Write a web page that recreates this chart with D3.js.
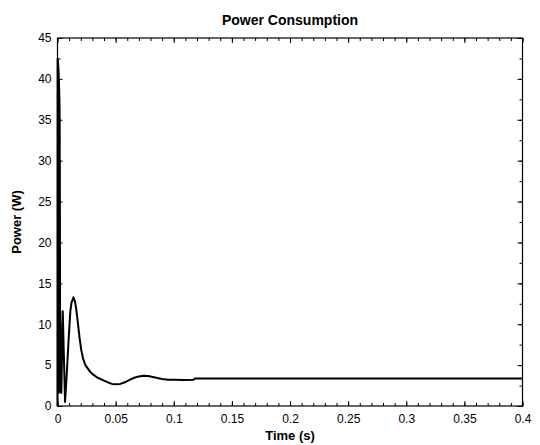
<!DOCTYPE html>
<html><head><meta charset="utf-8">
<script src="https://cdn.jsdelivr.net/npm/d3@7"></script>
<style>body{margin:0;background:#fff}svg{display:block}text{font-family:"Liberation Sans",Arial,sans-serif}</style>
</head><body>
<script>
const times = [0,0.0001,0.00015,0.0002,0.00025,0.0003,0.00035,0.0004,0.00045,0.0005,0.00055,0.0006,0.00065,0.0007,0.00075,0.0008,0.00085,0.0009,0.00095,0.001,0.00105,0.0011,0.00115,0.0012,0.00125,0.0013,0.00135,0.0014,0.00145,0.0015,0.00155,0.0016,0.00165,0.0017,0.00175,0.0018,0.00185,0.0019,0.00195,0.002,0.0022,0.0033,0.0045,0.0065,0.008,0.0095,0.011,0.012,0.0137,0.015,0.016,0.0175,0.019,0.0205,0.022,0.024,0.026,0.028,0.031,0.034,0.037,0.04,0.044,0.047,0.05,0.054,0.058,0.062,0.066,0.07,0.074,0.078,0.082,0.086,0.09,0.095,0.1,0.108,0.117,0.118,0.2,0.3,0.4];
const power = [0,42.5,1.5,42.4,1.8,42.3,2,42.1,1.6,42,1.7,41.8,2,41.5,1.8,41.2,1.6,41,1.9,40.7,1.7,40.4,2,40,1.8,39.6,1.7,39,2,38.5,1.8,38,1.7,37.2,2,36.5,1.8,35,2,30,11.7,1.6,11.6,0.5,4,8,11.5,12.6,13.3,12.8,12,10.2,8.3,6.8,5.8,5,4.6,4.2,3.8,3.5,3.3,3.1,2.85,2.7,2.65,2.7,2.9,3.2,3.45,3.62,3.7,3.68,3.55,3.42,3.3,3.22,3.2,3.18,3.2,3.35,3.35,3.35,3.35];
const xTicks = [0,0.05,0.1,0.15,0.2,0.25,0.3,0.35,0.4];
const yTicks = [0,5,10,15,20,25,30,35,40,45];

const W=540,H=445, L=57.5, R=522.5, T=38, B=406;
const svg=d3.select("body").append("svg").attr("width",W).attr("height",H);
const x=d3.scaleLinear().domain([0,0.4]).range([L,R]);
const y=d3.scaleLinear().domain([0,45]).range([B,T]);

const xMinor=d3.range(0,0.4001,0.01);
const yMinor=d3.range(0,45.01,2.5);

function axis(gen, tr){ return svg.append("g").attr("transform",tr).call(gen); }
axis(d3.axisBottom(x).tickValues(xMinor).tickSize(-3).tickFormat(""), `translate(0,${B})`);
axis(d3.axisBottom(x).tickValues(xTicks).tickSize(-5).tickPadding(8).tickFormat(d=>d===0?"0":String(+d.toFixed(2))), `translate(0,${B})`);
axis(d3.axisTop(x).tickValues(xMinor).tickSize(-3).tickFormat(""), `translate(0,${T})`);
axis(d3.axisTop(x).tickValues(xTicks).tickSize(-5).tickFormat(""), `translate(0,${T})`);
axis(d3.axisLeft(y).tickValues(yMinor).tickSize(-3).tickFormat(""), `translate(${L},0)`);
axis(d3.axisLeft(y).tickValues(yTicks).tickSize(-5).tickPadding(6), `translate(${L},0)`);
axis(d3.axisRight(y).tickValues(yMinor).tickSize(-3).tickFormat(""), `translate(${R},0)`);
axis(d3.axisRight(y).tickValues(yTicks).tickSize(-5).tickFormat(""), `translate(${R},0)`);

svg.selectAll(".domain").remove();
svg.selectAll(".tick line").attr("stroke","#000");
svg.selectAll(".tick text").attr("font-size",12).attr("fill","#000").attr("font-family","Liberation Sans, Arial, sans-serif");

svg.append("rect").attr("x",L).attr("y",T).attr("width",R-L).attr("height",B-T)
  .attr("fill","none").attr("stroke","#000").attr("stroke-width",1.2);

const pts=times.map((t,i)=>[t,power[i]]);
svg.append("path").datum(pts).attr("fill","none").attr("stroke","#000").attr("stroke-width",2)
  .attr("stroke-linejoin","round")
  .attr("d",d3.line().x(d=>x(d[0])).y(d=>y(d[1])));

svg.append("text").attr("x",(L+R)/2).attr("y",25).attr("text-anchor","middle")
  .attr("font-size",14).attr("font-weight","bold").text("Power Consumption");
svg.append("text").attr("x",(L+R)/2).attr("y",440).attr("text-anchor","middle")
  .attr("font-size",13).attr("font-weight","bold").text("Time (s)");
svg.append("text").attr("transform",`translate(21,${(T+B)/2}) rotate(-90)`).attr("text-anchor","middle")
  .attr("font-size",13).attr("font-weight","bold").text("Power (W)");
</script>
</body></html>
